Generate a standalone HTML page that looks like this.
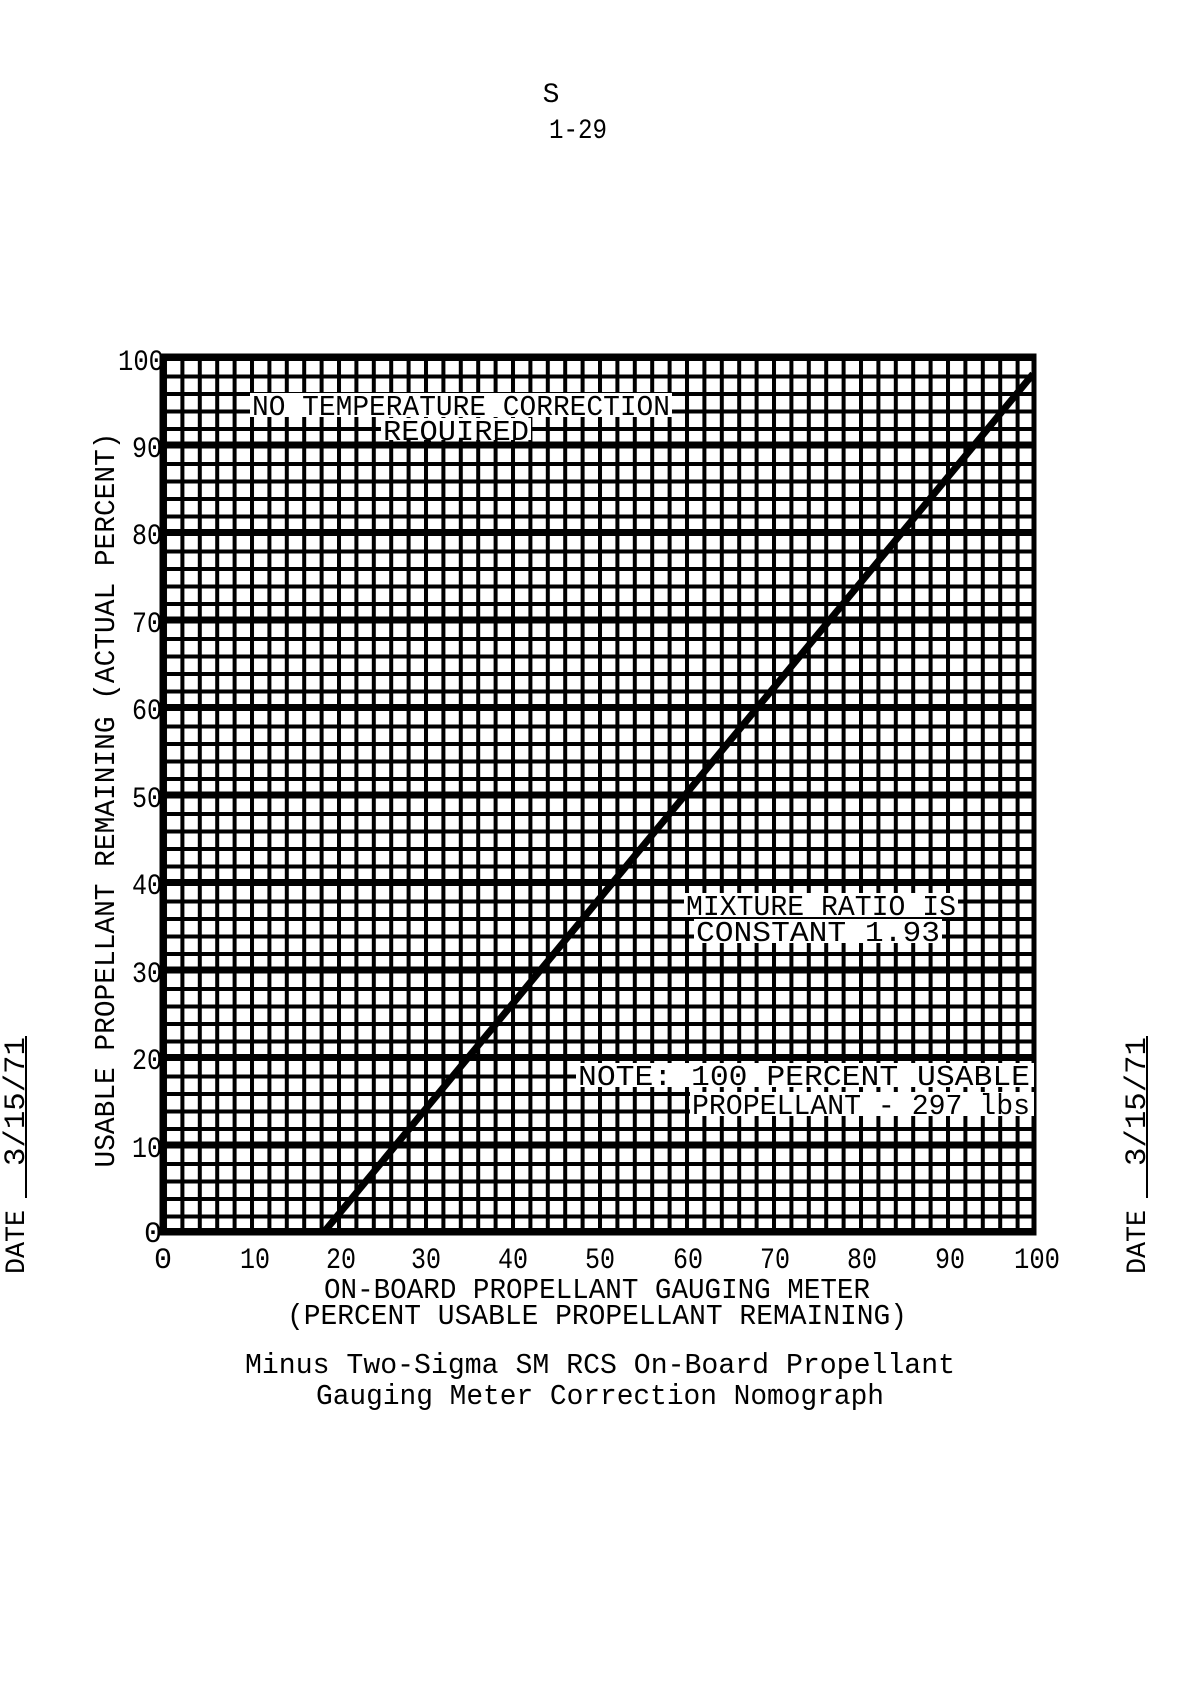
<!DOCTYPE html>
<html><head><style>
html,body{margin:0;padding:0;background:#fff;}
svg{display:block;}
text{font-family:"Liberation Mono","DejaVu Sans Mono",monospace;fill:#000;}
</style></head><body>
<svg width="1186" height="1686" viewBox="0 0 1186 1686" xmlns="http://www.w3.org/2000/svg">
<defs>
<pattern id="g" x="163" y="357" width="17.4" height="17.5" patternUnits="userSpaceOnUse">
<rect x="0" y="0" width="17.4" height="4" fill="#000"/>
<rect x="0" y="0" width="4" height="17.5" fill="#000"/>
</pattern>
</defs>
<text x="551" y="102" font-size="28" text-anchor="middle">S</text>
<text x="578" y="138" font-size="28" text-anchor="middle" textLength="58" lengthAdjust="spacingAndGlyphs">1-29</text>

<rect x="161" y="355" width="874" height="879" fill="url(#g)"/>
<rect x="162" y="356" width="872" height="877" fill="none" stroke="#000" stroke-width="5"/>
<g stroke="#000" stroke-width="6">
<line x1="163" y1="444.5" x2="1033" y2="444.5"/>
<line x1="163" y1="532" x2="1033" y2="532"/>
<line x1="163" y1="619.5" x2="1033" y2="619.5"/>
<line x1="163" y1="707" x2="1033" y2="707"/>
<line x1="163" y1="794.5" x2="1033" y2="794.5"/>
<line x1="163" y1="882" x2="1033" y2="882"/>
<line x1="163" y1="969.5" x2="1033" y2="969.5"/>
<line x1="163" y1="1057" x2="1033" y2="1057"/>
<line x1="163" y1="1144.5" x2="1033" y2="1144.5"/>
<line x1="163" y1="1231" x2="1033" y2="1231"/>
</g>
<line x1="324" y1="1232" x2="1033" y2="374" stroke="#000" stroke-width="7"/>

<g font-size="29">
<rect x="250" y="393" width="422" height="24" fill="#fff"/>
<text x="252" y="415" textLength="418" lengthAdjust="spacingAndGlyphs">NO TEMPERATURE CORRECTION</text>
<rect x="381" y="418" width="150" height="22" fill="#fff"/>
<text x="383" y="440" textLength="146" lengthAdjust="spacingAndGlyphs">REQUIRED</text>
<rect x="684" y="893" width="274" height="24" fill="#fff"/>
<text x="686" y="915" textLength="270" lengthAdjust="spacingAndGlyphs">MIXTURE RATIO IS</text>
<rect x="694" y="919" width="248" height="24" fill="#fff"/>
<text x="696" y="941" textLength="244" lengthAdjust="spacingAndGlyphs">CONSTANT 1.93</text>
<rect x="576" y="1063" width="458" height="24" fill="#fff"/>
<text x="578" y="1085" textLength="452" lengthAdjust="spacingAndGlyphs">NOTE:  100 PERCENT USABLE</text>
<rect x="690" y="1092" width="344" height="24" fill="#fff"/>
<text x="692" y="1114" textLength="338" lengthAdjust="spacingAndGlyphs">PROPELLANT - 297 lbs</text>
</g>

<g font-size="30" text-anchor="end">
<text x="164" y="370" textLength="46" lengthAdjust="spacingAndGlyphs">100</text>
<text x="162" y="457" textLength="30" lengthAdjust="spacingAndGlyphs">90</text>
<text x="162" y="544" textLength="30" lengthAdjust="spacingAndGlyphs">80</text>
<text x="162" y="632" textLength="30" lengthAdjust="spacingAndGlyphs">70</text>
<text x="162" y="719" textLength="30" lengthAdjust="spacingAndGlyphs">60</text>
<text x="162" y="807" textLength="30" lengthAdjust="spacingAndGlyphs">50</text>
<text x="162" y="894" textLength="30" lengthAdjust="spacingAndGlyphs">40</text>
<text x="162" y="982" textLength="30" lengthAdjust="spacingAndGlyphs">30</text>
<text x="162" y="1069" textLength="30" lengthAdjust="spacingAndGlyphs">20</text>
<text x="162" y="1157" textLength="30" lengthAdjust="spacingAndGlyphs">10</text>
<text x="162" y="1242">0</text>
</g>
<g font-size="30" text-anchor="middle">
<text x="163" y="1268">0</text>
<text x="255" y="1268" textLength="30" lengthAdjust="spacingAndGlyphs">10</text>
<text x="341" y="1268" textLength="30" lengthAdjust="spacingAndGlyphs">20</text>
<text x="426" y="1268" textLength="30" lengthAdjust="spacingAndGlyphs">30</text>
<text x="513" y="1268" textLength="30" lengthAdjust="spacingAndGlyphs">40</text>
<text x="600" y="1268" textLength="30" lengthAdjust="spacingAndGlyphs">50</text>
<text x="688" y="1268" textLength="30" lengthAdjust="spacingAndGlyphs">60</text>
<text x="775" y="1268" textLength="30" lengthAdjust="spacingAndGlyphs">70</text>
<text x="862" y="1268" textLength="30" lengthAdjust="spacingAndGlyphs">80</text>
<text x="950" y="1268" textLength="30" lengthAdjust="spacingAndGlyphs">90</text>
<text x="1037" y="1268" textLength="46" lengthAdjust="spacingAndGlyphs">100</text>
</g>
<text x="597" y="1298" font-size="29" text-anchor="middle" textLength="546" lengthAdjust="spacingAndGlyphs">ON-BOARD PROPELLANT GAUGING METER</text>
<text x="597" y="1324" font-size="29" text-anchor="middle" textLength="620" lengthAdjust="spacingAndGlyphs">(PERCENT USABLE PROPELLANT REMAINING)</text>
<text x="600" y="1373" font-size="29" text-anchor="middle" textLength="710" lengthAdjust="spacingAndGlyphs">Minus Two-Sigma SM RCS On-Board Propellant</text>
<text x="600" y="1404" font-size="29" text-anchor="middle" textLength="568" lengthAdjust="spacingAndGlyphs">Gauging Meter Correction Nomograph</text>

<text transform="translate(114,800) rotate(-90)" font-size="29" text-anchor="middle" textLength="735" lengthAdjust="spacingAndGlyphs">USABLE PROPELLANT REMAINING (ACTUAL PERCENT)</text>

<g transform="translate(1145,1274) rotate(-90)">
<text x="0" y="0" font-size="28" textLength="64" lengthAdjust="spacingAndGlyphs">DATE</text>
<line x1="76" y1="2" x2="238" y2="2" stroke="#000" stroke-width="2"/>
<text x="108" y="0" font-size="30" textLength="129" lengthAdjust="spacingAndGlyphs">3/15/71</text>
</g>
<g transform="translate(24,1274) rotate(-90)">
<text x="0" y="0" font-size="28" textLength="64" lengthAdjust="spacingAndGlyphs">DATE</text>
<line x1="76" y1="2" x2="238" y2="2" stroke="#000" stroke-width="2"/>
<text x="108" y="0" font-size="30" textLength="129" lengthAdjust="spacingAndGlyphs">3/15/71</text>
</g>
</svg>
</body></html>
